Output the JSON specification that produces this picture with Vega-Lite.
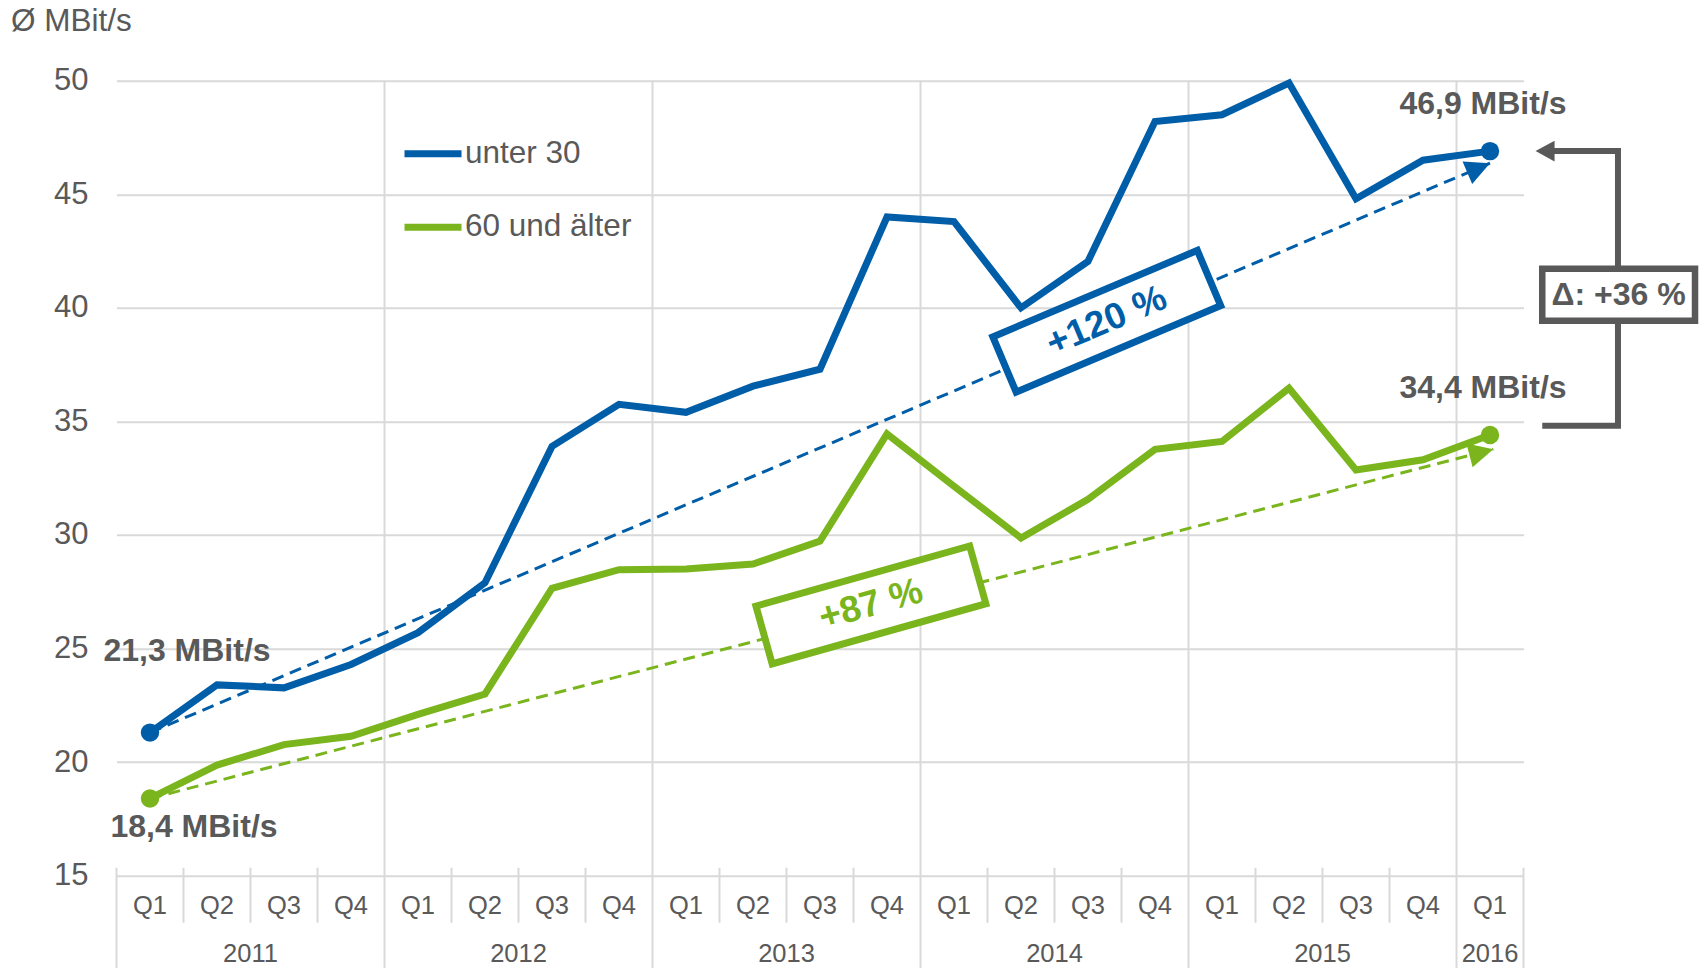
{
  "$schema": "https://vega.github.io/schema/vega-lite/v6.json",
  "width": 1407,
  "height": 795,
  "autosize": {"type": "none"},
  "padding": {"left": 116.5, "top": 80.7, "right": 177.5, "bottom": 92.3},
  "background": "#ffffff",
  "config": {"view": {"stroke": null}, "font": "Liberation Sans"},
  "datasets": {
    "speed": [
      {"t": 0, "q": "Q1", "series": "unter 30", "v": 21.3},
      {"t": 1, "q": "Q2", "series": "unter 30", "v": 23.4},
      {"t": 2, "q": "Q3", "series": "unter 30", "v": 23.27},
      {"t": 3, "q": "Q4", "series": "unter 30", "v": 24.3},
      {"t": 4, "q": "Q1", "series": "unter 30", "v": 25.7},
      {"t": 5, "q": "Q2", "series": "unter 30", "v": 27.9},
      {"t": 6, "q": "Q3", "series": "unter 30", "v": 33.9},
      {"t": 7, "q": "Q4", "series": "unter 30", "v": 35.75},
      {"t": 8, "q": "Q1", "series": "unter 30", "v": 35.4},
      {"t": 9, "q": "Q2", "series": "unter 30", "v": 36.55},
      {"t": 10, "q": "Q3", "series": "unter 30", "v": 37.3},
      {"t": 11, "q": "Q4", "series": "unter 30", "v": 44.0},
      {"t": 12, "q": "Q1", "series": "unter 30", "v": 43.8},
      {"t": 13, "q": "Q2", "series": "unter 30", "v": 40.0},
      {"t": 14, "q": "Q3", "series": "unter 30", "v": 42.05},
      {"t": 15, "q": "Q4", "series": "unter 30", "v": 48.2},
      {"t": 16, "q": "Q1", "series": "unter 30", "v": 48.5},
      {"t": 17, "q": "Q2", "series": "unter 30", "v": 49.9},
      {"t": 18, "q": "Q3", "series": "unter 30", "v": 44.8},
      {"t": 19, "q": "Q4", "series": "unter 30", "v": 46.5},
      {"t": 20, "q": "Q1", "series": "unter 30", "v": 46.9},
      {"t": 0, "q": "Q1", "series": "60 und älter", "v": 18.4},
      {"t": 1, "q": "Q2", "series": "60 und älter", "v": 19.87},
      {"t": 2, "q": "Q3", "series": "60 und älter", "v": 20.77},
      {"t": 3, "q": "Q4", "series": "60 und älter", "v": 21.14},
      {"t": 4, "q": "Q1", "series": "60 und älter", "v": 22.1},
      {"t": 5, "q": "Q2", "series": "60 und älter", "v": 23.0},
      {"t": 6, "q": "Q3", "series": "60 und älter", "v": 27.65},
      {"t": 7, "q": "Q4", "series": "60 und älter", "v": 28.47},
      {"t": 8, "q": "Q1", "series": "60 und älter", "v": 28.5},
      {"t": 9, "q": "Q2", "series": "60 und älter", "v": 28.72},
      {"t": 10, "q": "Q3", "series": "60 und älter", "v": 29.73},
      {"t": 11, "q": "Q4", "series": "60 und älter", "v": 34.45},
      {"t": 12, "q": "Q1", "series": "60 und älter", "v": 32.15},
      {"t": 13, "q": "Q2", "series": "60 und älter", "v": 29.87},
      {"t": 14, "q": "Q3", "series": "60 und älter", "v": 31.57},
      {"t": 15, "q": "Q4", "series": "60 und älter", "v": 33.77},
      {"t": 16, "q": "Q1", "series": "60 und älter", "v": 34.12},
      {"t": 17, "q": "Q2", "series": "60 und älter", "v": 36.46},
      {"t": 18, "q": "Q3", "series": "60 und älter", "v": 32.86},
      {"t": 19, "q": "Q4", "series": "60 und älter", "v": 33.31},
      {"t": 20, "q": "Q1", "series": "60 und älter", "v": 34.4}
    ],
    "trend": [
      {"series": "unter 30", "t": 0, "v": 21.3},
      {"series": "unter 30", "t": 20, "v": 46.37},
      {"series": "60 und älter", "t": 0, "v": 18.4},
      {"series": "60 und älter", "t": 20.05, "v": 33.78}
    ],
    "seps": [
      {"t": -0.5, "kind": "edge"},
      {"t": 0.5, "kind": "q"}, {"t": 1.5, "kind": "q"}, {"t": 2.5, "kind": "q"},
      {"t": 3.5, "kind": "year"},
      {"t": 4.5, "kind": "q"}, {"t": 5.5, "kind": "q"}, {"t": 6.5, "kind": "q"},
      {"t": 7.5, "kind": "year"},
      {"t": 8.5, "kind": "q"}, {"t": 9.5, "kind": "q"}, {"t": 10.5, "kind": "q"},
      {"t": 11.5, "kind": "year"},
      {"t": 12.5, "kind": "q"}, {"t": 13.5, "kind": "q"}, {"t": 14.5, "kind": "q"},
      {"t": 15.5, "kind": "year"},
      {"t": 16.5, "kind": "q"}, {"t": 17.5, "kind": "q"}, {"t": 18.5, "kind": "q"},
      {"t": 19.5, "kind": "year"},
      {"t": 20.5, "kind": "edge"}
    ],
    "years": [
      {"label": "2011", "t": 1.5},
      {"label": "2012", "t": 5.5},
      {"label": "2013", "t": 9.5},
      {"label": "2014", "t": 13.5},
      {"label": "2015", "t": 17.5},
      {"label": "2016", "t": 20}
    ],
    "pct": [
      {"series": "unter 30", "t": 14.28, "v": 39.41, "label": "+120 %"},
      {"series": "60 und älter", "t": 10.76, "v": 26.92, "label": "+87 %"}
    ],
    "bracket": [
      {"k": 0, "t": 20.78, "v": 34.81},
      {"k": 1, "t": 21.91, "v": 34.81},
      {"k": 2, "t": 21.91, "v": 46.9},
      {"k": 3, "t": 20.85, "v": 46.9}
    ],
    "bracketTip": [{"t": 20.68, "v": 46.9}],
    "delta": [{"t": 20.78, "t2": 23.06, "v": 41.72, "v2": 39.43, "tc": 21.92, "vc": 40.575, "label": "Δ: +36 %"}]
  },
  "layer": [
    {
      "data": {"name": "seps"},
      "transform": [{"filter": "datum.kind == 'year'"}],
      "mark": {"type": "rule", "color": "#d9d9d9", "strokeWidth": 2},
      "encoding": {
        "x": {"field": "t", "type": "quantitative", "scale": {"domain": [-0.5, 20.5], "nice": false, "zero": false}, "axis": null},
        "y": {"datum": 50, "type": "quantitative", "scale": {"domain": [15, 50], "nice": false, "zero": false}},
        "y2": {"datum": 10.9}
      }
    },
    {
      "data": {"name": "seps"},
      "transform": [{"filter": "datum.kind == 'edge'"}],
      "mark": {"type": "rule", "color": "#d9d9d9", "strokeWidth": 2},
      "encoding": {
        "x": {"field": "t", "type": "quantitative", "scale": {"domain": [-0.5, 20.5], "nice": false, "zero": false}, "axis": null},
        "y": {"datum": 15.35, "type": "quantitative", "scale": {"domain": [15, 50], "nice": false, "zero": false}},
        "y2": {"datum": 10.9}
      }
    },
    {
      "data": {"name": "seps"},
      "transform": [{"filter": "datum.kind == 'q'"}],
      "mark": {"type": "rule", "color": "#d9d9d9", "strokeWidth": 2},
      "encoding": {
        "x": {"field": "t", "type": "quantitative", "scale": {"domain": [-0.5, 20.5], "nice": false, "zero": false}, "axis": null},
        "y": {"datum": 15.35, "type": "quantitative", "scale": {"domain": [15, 50], "nice": false, "zero": false}},
        "y2": {"datum": 12.93}
      }
    },
    {
      "data": {"name": "speed"},
      "transform": [{"filter": "datum.series == 'unter 30'"}],
      "mark": {"type": "text", "fontSize": 25.5, "color": "#595959", "font": "Liberation Sans", "baseline": "middle", "align": "center"},
      "encoding": {
        "x": {"field": "t", "type": "quantitative", "scale": {"domain": [-0.5, 20.5], "nice": false, "zero": false}, "axis": null},
        "y": {"datum": 13.66, "type": "quantitative", "scale": {"domain": [15, 50], "nice": false, "zero": false}},
        "text": {"field": "q"}
      }
    },
    {
      "data": {"name": "years"},
      "mark": {"type": "text", "fontSize": 25.5, "color": "#595959", "font": "Liberation Sans", "baseline": "middle", "align": "center"},
      "encoding": {
        "x": {"field": "t", "type": "quantitative", "scale": {"domain": [-0.5, 20.5], "nice": false, "zero": false}, "axis": null},
        "y": {"datum": 11.54, "type": "quantitative", "scale": {"domain": [15, 50], "nice": false, "zero": false}},
        "text": {"field": "label"}
      }
    },
    {
      "data": {"name": "trend"},
      "transform": [{"filter": "datum.series == 'unter 30'"}],
      "mark": {"type": "line", "strokeWidth": 3, "strokeDash": [12, 7], "color": "#005DA8"},
      "encoding": {
        "x": {"field": "t", "type": "quantitative", "scale": {"domain": [-0.5, 20.5], "nice": false, "zero": false}, "axis": null},
        "y": {"field": "v", "type": "quantitative", "scale": {"domain": [15, 50], "nice": false, "zero": false}}
      }
    },
    {
      "data": {"name": "trend"},
      "transform": [{"filter": "datum.series == '60 und älter'"}],
      "mark": {"type": "line", "strokeWidth": 3, "strokeDash": [12, 7], "color": "#7AB51D"},
      "encoding": {
        "x": {"field": "t", "type": "quantitative", "scale": {"domain": [-0.5, 20.5], "nice": false, "zero": false}, "axis": null},
        "y": {"field": "v", "type": "quantitative", "scale": {"domain": [15, 50], "nice": false, "zero": false}}
      }
    },
    {
      "data": {"name": "speed"},
      "mark": {"type": "line", "strokeWidth": 7},
      "encoding": {
        "x": {"field": "t", "type": "quantitative", "scale": {"domain": [-0.5, 20.5], "nice": false, "zero": false}, "axis": null},
        "y": {
          "field": "v", "type": "quantitative",
          "scale": {"domain": [15, 50], "nice": false, "zero": false},
          "axis": {
            "values": [15, 20, 25, 30, 35, 40, 45, 50],
            "grid": true, "gridColor": "#d9d9d9", "gridWidth": 2,
            "domain": false, "ticks": false, "tickSize": 0,
            "labelFontSize": 31, "labelColor": "#595959", "labelFont": "Liberation Sans", "labelPadding": 28.5,
            "title": "Ø MBit/s", "titleAngle": 0, "titleAlign": "left", "titleBaseline": "top",
            "titleX": -106, "titleY": -75, "titleFontSize": 31.5, "titleFontWeight": "normal",
            "titleColor": "#595959", "titleFont": "Liberation Sans"
          }
        },
        "color": {
          "field": "series", "type": "nominal",
          "scale": {"domain": ["unter 30", "60 und älter"], "range": ["#005DA8", "#7AB51D"]},
          "legend": {
            "orient": "none", "legendX": 284.5, "legendY": 41, "title": null,
            "symbolType": "stroke", "symbolSize": 3249, "symbolStrokeWidth": 7,
            "labelFontSize": 31.5, "labelColor": "#595959", "labelFont": "Liberation Sans",
            "labelOffset": 0, "rowPadding": 25.5, "padding": 0, "labelLimit": 500
          }
        }
      }
    },
    {
      "data": {"name": "speed"},
      "transform": [{"filter": "(datum.t == 0 || datum.t == 20) && datum.series == 'unter 30'"}],
      "mark": {"type": "point", "filled": true, "shape": "circle", "size": 340, "opacity": 1, "color": "#005DA8"},
      "encoding": {
        "x": {"field": "t", "type": "quantitative", "scale": {"domain": [-0.5, 20.5], "nice": false, "zero": false}, "axis": null},
        "y": {"field": "v", "type": "quantitative", "scale": {"domain": [15, 50], "nice": false, "zero": false}}
      }
    },
    {
      "data": {"name": "speed"},
      "transform": [{"filter": "(datum.t == 0 || datum.t == 20) && datum.series == '60 und älter'"}],
      "mark": {"type": "point", "filled": true, "shape": "circle", "size": 340, "opacity": 1, "color": "#7AB51D"},
      "encoding": {
        "x": {"field": "t", "type": "quantitative", "scale": {"domain": [-0.5, 20.5], "nice": false, "zero": false}, "axis": null},
        "y": {"field": "v", "type": "quantitative", "scale": {"domain": [15, 50], "nice": false, "zero": false}}
      }
    },
    {
      "data": {"name": "trend"},
      "transform": [{"filter": "datum.series == 'unter 30' && datum.t > 10"}],
      "mark": {"type": "point", "filled": true, "shape": "M0,0L-1,-0.5L-1,0.5Z", "size": 2421, "angle": 337, "opacity": 1, "color": "#005DA8"},
      "encoding": {
        "x": {"field": "t", "type": "quantitative", "scale": {"domain": [-0.5, 20.5], "nice": false, "zero": false}, "axis": null},
        "y": {"field": "v", "type": "quantitative", "scale": {"domain": [15, 50], "nice": false, "zero": false}}
      }
    },
    {
      "data": {"name": "trend"},
      "transform": [{"filter": "datum.series == '60 und älter' && datum.t > 10"}],
      "mark": {"type": "point", "filled": true, "shape": "M0,0L-1,-0.5L-1,0.5Z", "size": 2421, "angle": 345.5, "opacity": 1, "color": "#7AB51D"},
      "encoding": {
        "x": {"field": "t", "type": "quantitative", "scale": {"domain": [-0.5, 20.5], "nice": false, "zero": false}, "axis": null},
        "y": {"field": "v", "type": "quantitative", "scale": {"domain": [15, 50], "nice": false, "zero": false}}
      }
    },
    {
      "data": {"name": "pct"},
      "transform": [{"filter": "datum.series == 'unter 30'"}],
      "mark": {"type": "point", "shape": "M-1,-0.27L1,-0.27L1,0.27L-1,0.27Z", "size": 49284, "angle": 337.1, "fill": "#ffffff", "stroke": "#005DA8", "strokeWidth": 7, "strokeJoin": "miter", "opacity": 1, "fillOpacity": 1, "filled": false},
      "encoding": {
        "x": {"field": "t", "type": "quantitative", "scale": {"domain": [-0.5, 20.5], "nice": false, "zero": false}, "axis": null},
        "y": {"field": "v", "type": "quantitative", "scale": {"domain": [15, 50], "nice": false, "zero": false}}
      }
    },
    {
      "data": {"name": "pct"},
      "transform": [{"filter": "datum.series == '60 und älter'"}],
      "mark": {"type": "point", "shape": "M-1,-0.27L1,-0.27L1,0.27L-1,0.27Z", "size": 49284, "angle": 344.3, "fill": "#ffffff", "stroke": "#7AB51D", "strokeWidth": 7, "strokeJoin": "miter", "opacity": 1, "fillOpacity": 1, "filled": false},
      "encoding": {
        "x": {"field": "t", "type": "quantitative", "scale": {"domain": [-0.5, 20.5], "nice": false, "zero": false}, "axis": null},
        "y": {"field": "v", "type": "quantitative", "scale": {"domain": [15, 50], "nice": false, "zero": false}}
      }
    },
    {
      "data": {"name": "pct"},
      "transform": [{"filter": "datum.series == 'unter 30'"}],
      "mark": {"type": "text", "fontSize": 37, "fontWeight": "bold", "color": "#005DA8", "angle": 337.1, "font": "Liberation Sans", "align": "center", "baseline": "middle"},
      "encoding": {
        "x": {"field": "t", "type": "quantitative", "scale": {"domain": [-0.5, 20.5], "nice": false, "zero": false}, "axis": null},
        "y": {"field": "v", "type": "quantitative", "scale": {"domain": [15, 50], "nice": false, "zero": false}},
        "text": {"field": "label"}
      }
    },
    {
      "data": {"name": "pct"},
      "transform": [{"filter": "datum.series == '60 und älter'"}],
      "mark": {"type": "text", "fontSize": 37, "fontWeight": "bold", "color": "#7AB51D", "angle": 344.3, "font": "Liberation Sans", "align": "center", "baseline": "middle"},
      "encoding": {
        "x": {"field": "t", "type": "quantitative", "scale": {"domain": [-0.5, 20.5], "nice": false, "zero": false}, "axis": null},
        "y": {"field": "v", "type": "quantitative", "scale": {"domain": [15, 50], "nice": false, "zero": false}},
        "text": {"field": "label"}
      }
    },
    {
      "data": {"name": "speed"},
      "transform": [
        {"filter": "datum.t == 0 && datum.series == 'unter 30'"},
        {"calculate": "replace(format(datum.v, '.1f'), '.', ',') + ' MBit/s'", "as": "lbl"}
      ],
      "mark": {"type": "text", "fontSize": 32, "fontWeight": "bold", "color": "#595959", "font": "Liberation Sans", "align": "center", "baseline": "middle", "dx": 37, "dy": -82},
      "encoding": {
        "x": {"field": "t", "type": "quantitative", "scale": {"domain": [-0.5, 20.5], "nice": false, "zero": false}, "axis": null},
        "y": {"field": "v", "type": "quantitative", "scale": {"domain": [15, 50], "nice": false, "zero": false}},
        "text": {"field": "lbl"}
      }
    },
    {
      "data": {"name": "speed"},
      "transform": [
        {"filter": "datum.t == 0 && datum.series == '60 und älter'"},
        {"calculate": "replace(format(datum.v, '.1f'), '.', ',') + ' MBit/s'", "as": "lbl"}
      ],
      "mark": {"type": "text", "fontSize": 32, "fontWeight": "bold", "color": "#595959", "font": "Liberation Sans", "align": "center", "baseline": "middle", "dx": 44, "dy": 29},
      "encoding": {
        "x": {"field": "t", "type": "quantitative", "scale": {"domain": [-0.5, 20.5], "nice": false, "zero": false}, "axis": null},
        "y": {"field": "v", "type": "quantitative", "scale": {"domain": [15, 50], "nice": false, "zero": false}},
        "text": {"field": "lbl"}
      }
    },
    {
      "data": {"name": "speed"},
      "transform": [
        {"filter": "datum.t == 20"},
        {"calculate": "replace(format(datum.v, '.1f'), '.', ',') + ' MBit/s'", "as": "lbl"}
      ],
      "mark": {"type": "text", "fontSize": 32, "fontWeight": "bold", "color": "#595959", "font": "Liberation Sans", "align": "center", "baseline": "middle", "dx": -7, "dy": -47.5},
      "encoding": {
        "x": {"field": "t", "type": "quantitative", "scale": {"domain": [-0.5, 20.5], "nice": false, "zero": false}, "axis": null},
        "y": {"field": "v", "type": "quantitative", "scale": {"domain": [15, 50], "nice": false, "zero": false}},
        "text": {"field": "lbl"}
      }
    },
    {
      "data": {"name": "bracket"},
      "mark": {"type": "line", "color": "#595959", "strokeWidth": 6, "strokeJoin": "miter"},
      "encoding": {
        "x": {"field": "t", "type": "quantitative", "scale": {"domain": [-0.5, 20.5], "nice": false, "zero": false}, "axis": null},
        "y": {"field": "v", "type": "quantitative", "scale": {"domain": [15, 50], "nice": false, "zero": false}},
        "order": {"field": "k", "type": "quantitative"}
      }
    },
    {
      "data": {"name": "bracketTip"},
      "mark": {"type": "point", "filled": true, "shape": "M0,0L1,-0.55L1,0.55Z", "size": 1444, "opacity": 1, "color": "#595959"},
      "encoding": {
        "x": {"field": "t", "type": "quantitative", "scale": {"domain": [-0.5, 20.5], "nice": false, "zero": false}, "axis": null},
        "y": {"field": "v", "type": "quantitative", "scale": {"domain": [15, 50], "nice": false, "zero": false}}
      }
    },
    {
      "data": {"name": "delta"},
      "mark": {"type": "rect", "fill": "#ffffff", "stroke": "#595959", "strokeWidth": 6.5, "strokeJoin": "miter"},
      "encoding": {
        "x": {"field": "t", "type": "quantitative", "scale": {"domain": [-0.5, 20.5], "nice": false, "zero": false}, "axis": null},
        "x2": {"field": "t2"},
        "y": {"field": "v", "type": "quantitative", "scale": {"domain": [15, 50], "nice": false, "zero": false}},
        "y2": {"field": "v2"}
      }
    },
    {
      "data": {"name": "delta"},
      "mark": {"type": "text", "fontSize": 32, "fontWeight": "bold", "color": "#595959", "font": "Liberation Sans", "align": "center", "baseline": "middle"},
      "encoding": {
        "x": {"field": "tc", "type": "quantitative", "scale": {"domain": [-0.5, 20.5], "nice": false, "zero": false}, "axis": null},
        "y": {"field": "vc", "type": "quantitative", "scale": {"domain": [15, 50], "nice": false, "zero": false}},
        "text": {"field": "label"}
      }
    }
  ]
}
